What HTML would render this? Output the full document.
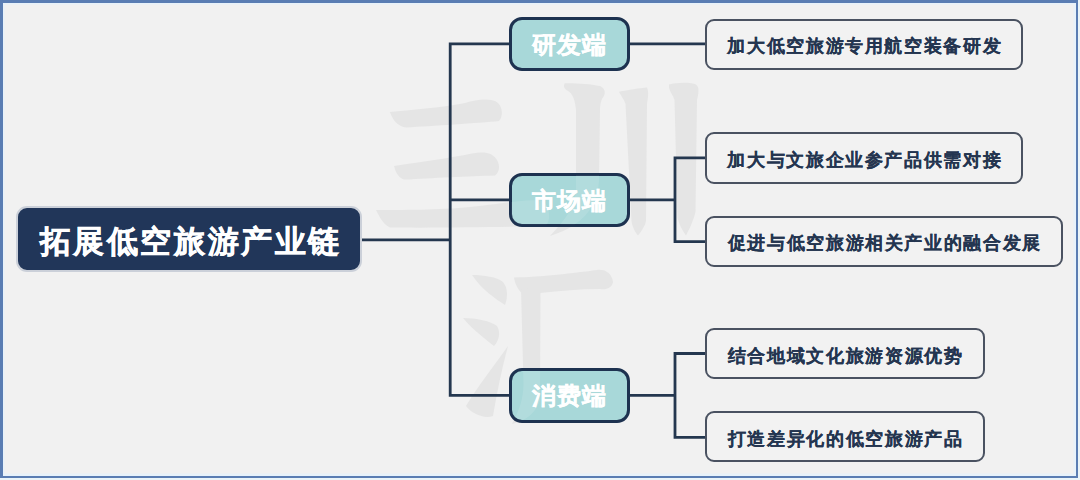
<!DOCTYPE html>
<html><head><meta charset="utf-8">
<style>
html,body{margin:0;padding:0;}
body{width:1080px;height:480px;position:relative;overflow:hidden;background:#eaf4f8;font-family:"Liberation Sans",sans-serif;}
#frame{position:absolute;left:0;top:0;width:1078px;height:478px;background:#f1f1f1;box-shadow:inset 0 0 0 4.5px #e8f2fa;}
#bt{position:absolute;left:0;top:0;width:1078px;height:2.5px;background:#5a7db3;}
#bl{position:absolute;left:0;top:0;width:2.5px;height:478px;background:#5a7db3;}
#br{position:absolute;left:1076px;top:0;width:2px;height:478px;background:#5a7db3;}
#bb{position:absolute;left:0;top:476px;width:1078px;height:2px;background:#5a7db3;}
svg{position:absolute;left:0;top:0;}
.node{position:absolute;box-sizing:border-box;display:flex;align-items:center;justify-content:center;font-weight:bold;white-space:nowrap;}
.root{left:15.8px;top:206.3px;width:346.2px;height:65.4px;background:#213659;border:2.5px solid #cbd0d9;border-radius:11px;color:#fff;font-size:30.5px;letter-spacing:2.6px;-webkit-text-stroke:0.5px #fff;padding-left:2.6px;}
.root span{position:relative;top:4px;left:0.6px;}
.mid{left:508.5px;width:121.5px;height:54.7px;background:#a8d8d9;border:3px solid #1d3250;border-radius:13px;color:#fff;font-size:24px;letter-spacing:1.1px;padding-left:1.1px;-webkit-text-stroke:0.25px #fff;}
.mid span{position:relative;top:1px;}
.leaf{left:705px;height:51px;background:#f2f2f2;border:2px solid #4a5261;border-radius:9px;color:#243550;font-size:18.2px;letter-spacing:1.65px;padding-left:1.65px;-webkit-text-stroke:0.1px #243550;}
.leaf span{position:relative;top:1.5px;}
</style></head><body>
<div id="frame"></div>
<div id="bt"></div><div id="bl"></div><div id="br"></div><div id="bb"></div>

<svg width="1080" height="480" viewBox="0 0 1080 480">
  <defs><g id="wm">
    <!-- 三 -->
    <path d="M389.8 111.9 C410 110 440 108 465 103 C478 99 492 98 498 103 C503 108 503 117 499 121 C480 123 430 126 407 127.5 C400 127 394 123 389.8 111.9 Z"/>
    <path d="M394 166 C420 162 450 158 472 153.5 C485 151 493 153 497 160 C500 165 500 172 495 175.4 C470 176 430 178 405 179.6 C400 179 396 174 394 166 Z"/>
    <path d="M376 210 C400 210 440 210 470 207 C490 205 520 200 540 200 C550 202 552 222 545 226 C510 227 440 228 390 227.5 C384 225 380 218 376 210 Z"/>
    <!-- 川 -->
    <path d="M564.8 83.3 C575 83 590 84 600 86 C604 88 606 91 604 96 C602 98 600 103 600 110 L599 180 C598 205 585 225 550 236 C560 225 575 210 576 190 L576 110 C575 100 573 94 568 91 C564 89 563 86 564.8 83.3 Z"/>
    <path d="M619 91.7 C628 90 640 88 647 87.5 C649 92 648 98 647 104 L646 221 C645 226 641 232 638 235.5 C635 232 632 226 631.5 221 L625.5 104 C624 99 621 96 619 91.7 Z"/>
    <path d="M669 84.6 C675 82.5 688 82 695 83.9 C699 86 699.5 90 697 100 L695.5 212 C693 222 689 230 686 235.4 C682 230 679 224 677.5 218 L674.5 100 C673 95 670 92 669 88 Z"/>
    <!-- 汇 -->
    <path d="M472 275 C484 275 497 277 503 282 C508 288 508 297 505 305 C496 299 482 290 472 275 Z"/>
    <path d="M463 318 C476 318 491 321 497 326 C501 332 499 341 494 346 C484 338 471 328 463 318 Z"/>
    <path d="M508 346 C502 368 497 392 493 416 C484 419 472 414 466 406 C478 386 494 366 508 346 Z"/>
    <path d="M514 277.5 C540 277 575 273 597 270 C606 269 612 274 613 282 C612 288 606 290 600 289 C580 289 560 291 540 293 L522 293 C518 290 515 284 514 277.5 Z"/>
    <path d="M521 288 L540.5 290 L540 400 C536 412 528 420 512 424 C518 412 523 402 523.5 385 Z"/>
  </g></defs>
  <use href="#wm" fill="#e5e5e5"/>
  <g stroke="#24374f" stroke-width="2.8" fill="none">
    <line x1="360" y1="239.8" x2="450.2" y2="239.8"/>
    <polyline points="510,43.8 450.2,43.8 450.2,395.3 510,395.3"/>
    <line x1="450.2" y1="199.8" x2="510" y2="199.8"/>
    <line x1="628" y1="43.8" x2="707" y2="43.8"/>
    <line x1="628" y1="199.8" x2="675" y2="199.8"/>
    <polyline points="707,157.8 675,157.8 675,241.7 707,241.7"/>
    <line x1="628" y1="395.3" x2="675" y2="395.3"/>
    <polyline points="707,353.5 675,353.5 675,437.3 707,437.3"/>
  </g>
</svg>

<div class="node root"><span>拓展低空旅游产业链</span></div>
<div class="node mid" style="top:16.5px"><span>研发端</span></div>
<div class="node mid" style="top:172.5px"><span>市场端</span></div>
<div class="node mid" style="top:368px"><span>消费端</span></div>
<div class="node leaf" style="top:18.5px;width:318px"><span>加大低空旅游专用航空装备研发</span></div>
<div class="node leaf" style="top:132px;height:51.5px;width:318px"><span>加大与文旅企业参产品供需对接</span></div>
<div class="node leaf" style="top:216px;height:50.5px;width:358px"><span>促进与低空旅游相关产业的融合发展</span></div>
<div class="node leaf" style="top:327.8px;height:51.5px;width:279.5px"><span>结合地域文化旅游资源优势</span></div>
<div class="node leaf" style="top:411.3px;height:51px;width:279.5px"><span>打造差异化的低空旅游产品</span></div>
<svg width="1080" height="480" viewBox="0 0 1080 480" style="pointer-events:none">
  <defs><clipPath id="midclip">
    <rect x="511.5" y="19.5" width="115.5" height="48.7" rx="10"/>
    <rect x="511.5" y="175.5" width="115.5" height="48.7" rx="10"/>
    <rect x="511.5" y="371" width="115.5" height="48.7" rx="10"/>
  </clipPath></defs>
  <use href="#wm" fill="#ffffff" fill-opacity="0.12" clip-path="url(#midclip)"/>
</svg>
</body></html>
